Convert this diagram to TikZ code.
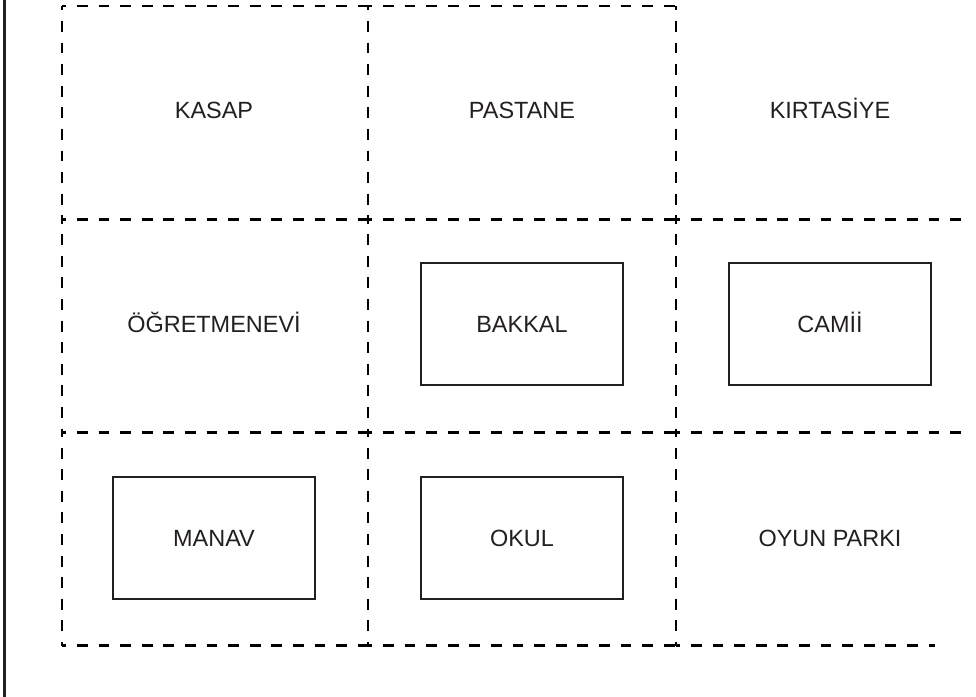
\documentclass[tikz,border=0pt]{standalone}
\usepackage{fontspec}
\setmainfont{Liberation Sans}
\usepackage{tikz}
\usetikzlibrary{positioning}

\definecolor{ink}{HTML}{231F20}

\begin{document}
\begin{tikzpicture}[
      x=0.75pt, y=-0.75pt,
      node distance=160.5pt and 231pt,
      on grid,
      every node/.style={font=\fontsize{17.6pt}{21pt}\selectfont, text=ink,
        text height=12.6pt, text depth=0pt, inner sep=0pt},
      shop/.style={},
      building/.style={draw=ink, line width=1.7pt, minimum width=151.5pt, minimum height=92pt},
      gridline/.style={line width=2.1pt, dash pattern=on 8.2pt off 8pt, dash phase=5pt},
    ]

    \useasboundingbox (0,0) rectangle (976,697);

    % shops and buildings
    \node[shop]                       (kasap)   at (214,110) {KASAP};
    \node[shop, right=of kasap]       (pastane) {PASTANE};
    \node[shop, right=of pastane]     (kirtasiye) {KIRTASİYE};
    \node[shop, below=of kasap]       (ogretmenevi) {ÖĞRETMENEVİ};
    \node[building, below=of pastane] (bakkal)  {BAKKAL};
    \node[building, below=of kirtasiye] (camii) {CAMİİ};
    \node[building, below=of ogretmenevi] (manav) {MANAV};
    \node[building, below=of bakkal]  (okul)    {OKUL};
    \node[shop, below=of camii]       (park)    {OYUN PARKI};

    % street grid
    \foreach \x in {62,368,676}
      \foreach \y/\z in {6/219.3, 219.3/432.7, 432.7/645.7}
        \draw[gridline] (\x,\y) -- (\x,\z);
    \foreach \a/\b in {62/368, 368/676}
      \draw[gridline] (\a,6) -- (\b,6);
    \foreach \y in {219.3, 432.7}
      \foreach \a/\b in {62/368, 368/676, 676/967}
        \draw[gridline] (\a,\y) -- (\b,\y);
    \foreach \a/\b in {62/368, 368/676, 676/935}
      \draw[gridline] (\a,645.7) -- (\b,645.7);

    % left border
    \coordinate (wall top) at (4.7,0);
    \coordinate (wall bottom) at (4.7,697);
    \draw[ink, line width=2pt] (wall top) -- (wall bottom);

  \end{tikzpicture}
\end{document}
